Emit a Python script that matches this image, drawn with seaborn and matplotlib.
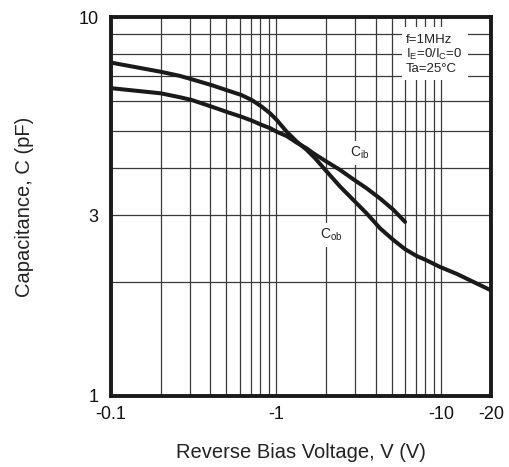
import numpy as np
import pandas as pd
import matplotlib
matplotlib.use("Agg")
import matplotlib.pyplot as plt
import matplotlib.ticker as mticker
from matplotlib.patches import Rectangle
import seaborn as sns

# ---------------------------
# Data (reverse bias magnitude in V, capacitance in pF)
# ---------------------------
cob_v = [0.1, 0.2, 0.262, 0.308, 0.407, 0.513, 0.613, 0.711, 0.818, 0.919, 1.008,
         1.159, 1.333, 1.532, 1.72, 2.025, 2.438, 2.935, 3.538, 4.259, 5.128,
         6.035, 7.107, 7.978, 9.833, 12.41, 15.65, 20.0]
cob_c = [7.58, 7.17, 6.99, 6.85, 6.61, 6.39, 6.23, 6.04, 5.80, 5.57, 5.35,
         4.98, 4.69, 4.46, 4.24, 3.91, 3.57, 3.29, 3.03, 2.77, 2.58,
         2.44, 2.34, 2.29, 2.19, 2.10, 2.00, 1.90]

cib_v = [0.1, 0.2, 0.262, 0.308, 0.407, 0.513, 0.613, 0.711, 0.818, 0.919, 1.008,
         1.159, 1.333, 1.532, 1.68, 2.025, 2.438, 2.935, 3.538, 4.259, 5.128, 6.035]
cib_c = [6.49, 6.29, 6.14, 6.04, 5.80, 5.60, 5.46, 5.33, 5.19, 5.09, 4.98,
         4.85, 4.66, 4.50, 4.37, 4.15, 3.95, 3.73, 3.53, 3.32, 3.10, 2.88]

x_ticks = [0.1, 1, 10, 20]
x_tick_labels = ["-0.1", "-1", "-10", "-20"]
y_ticks = [1, 3, 10]
y_tick_labels = ["1", "3", "10"]

cob_df = pd.DataFrame({"V": cob_v, "C": cob_c})
cib_df = pd.DataFrame({"V": cib_v, "C": cib_c})

# ---------------------------
# Style
# ---------------------------
sns.set_style("white")
plt.rcParams["font.family"] = ["Liberation Sans", "DejaVu Sans"]
plt.rcParams["mathtext.fontset"] = "custom"
plt.rcParams["mathtext.rm"] = "Liberation Sans"

fig = plt.figure(figsize=(5.1, 4.67), dpi=100)
ax = fig.add_axes([111 / 510, 71 / 467, 380 / 510, 379 / 467])

for df in (cob_df, cib_df):
    sns.lineplot(data=df, x="V", y="C", ax=ax, color="#1a1a1a", lw=2.9,
                 sort=False, estimator=None, zorder=3)

ax.set_xscale("log")
ax.set_yscale("log")
ax.set_xlim(0.1, 20)
ax.set_ylim(1, 10)

ax.xaxis.set_minor_locator(mticker.LogLocator(base=10, subs=np.arange(2, 10)))
ax.yaxis.set_minor_locator(mticker.LogLocator(base=10, subs=np.arange(2, 10)))
ax.xaxis.set_minor_formatter(mticker.NullFormatter())
ax.yaxis.set_minor_formatter(mticker.NullFormatter())
ax.set_xticks(x_ticks)
ax.set_xticklabels(x_tick_labels)
ax.set_yticks(y_ticks)
ax.set_yticklabels(y_tick_labels)
ax.tick_params(which="both", length=0, labelsize=13, colors="#111111")
ax.tick_params(axis="x", pad=7)
ax.tick_params(axis="y", pad=9)

ax.set_axisbelow(True)
ax.grid(which="both", color="#3a3a3a", lw=0.9)

for sp in ax.spines.values():
    sp.set_linewidth(2.8)
    sp.set_color("#1a1a1a")
    sp.set_zorder(5)

ax.set_xlabel("Reverse Bias Voltage, V (V)", fontsize=14.5, color="#222222")
ax.set_ylabel("Capacitance, C (pF)", fontsize=14.5, color="#222222")
ax.xaxis.set_label_coords(0.5, -(452 - 396) / 379)
ax.xaxis.label.set_va("center")
ax.yaxis.set_label_coords(-(111 - 25) / 380, 0.5)
ax.yaxis.label.set_va("center")

# condition box
ax.add_patch(Rectangle((0.766, 0.834), 0.173, 0.14, transform=ax.transAxes,
                       facecolor="white", edgecolor="none", zorder=2))
cond_lines = ["f=1MHz", r"I$_{\mathregular{E}}$=0/I$_{\mathregular{C}}$=0", "Ta=25°C"]
cond_y = [0.939, 0.900, 0.862]
for txt, yy in zip(cond_lines, cond_y):
    ax.text(0.776, yy, txt, transform=ax.transAxes, fontsize=9.5,
            ha="left", va="center", color="#222222", zorder=4)

# curve labels
ax.text(3.22, 4.38, r"C$_{\mathregular{ib}}$", fontsize=10, ha="center", va="center",
        color="#222222", zorder=4,
        bbox=dict(facecolor="white", edgecolor="none", pad=3))
ax.text(2.17, 2.66, r"C$_{\mathregular{ob}}$", fontsize=10, ha="center", va="center",
        color="#222222", zorder=4,
        bbox=dict(facecolor="white", edgecolor="none", pad=3))

fig.savefig("out.png", dpi=100)
plt.close(fig)
